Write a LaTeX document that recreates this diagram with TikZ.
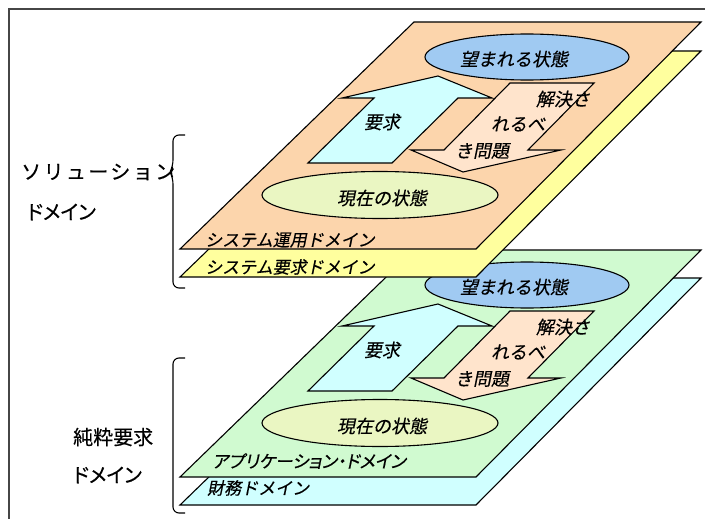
\documentclass[tikz,border=0pt]{standalone}
\usepackage{fontspec}
\newfontfamily\jp[FakeBold=0.4]{Noto Sans CJK JP}
\newfontfamily\jpp[FakeBold=0.4,RawFeature=+palt]{Noto Sans CJK JP}
\newfontfamily\jpsp[FakeBold=0.4,LetterSpace=12]{Noto Sans CJK JP}
\newfontfamily\jpit[FakeSlant=0.2,FakeBold=0.4]{Noto Sans CJK JP}
\newfontfamily\jpitp[FakeSlant=0.2,FakeBold=0.4,RawFeature=+palt]{Noto Sans CJK JP}
\definecolor{planeOrange}{RGB}{252,213,172}
\definecolor{planeYellow}{RGB}{255,255,158}
\definecolor{planeGreen}{RGB}{208,250,208}
\definecolor{planeCyan}{RGB}{208,255,255}
\definecolor{ellBlue}{RGB}{160,202,242}
\definecolor{ellGreen}{RGB}{234,246,194}
\definecolor{arrCyan}{RGB}{208,255,255}
\definecolor{arrPeach}{RGB}{255,228,204}
\definecolor{frameGray}{RGB}{70,70,70}
\tikzset{
  plane/.style={draw=black, line width=1.1pt, line join=miter},
  shapeline/.style={draw=black, line width=1.1pt, line join=miter},
  itlab/.style={inner sep=0pt, font=\jpit\fontsize{18}{18}\selectfont},
  itlabw/.style={inner sep=0pt, anchor=west, font=\jpit\fontsize{17}{17}\selectfont},
  uplab/.style={inner sep=0pt, anchor=west, font=\jp\fontsize{20}{20}\selectfont},
  bracket/.style={draw=black, line width=1.1pt, rounded corners=6pt},
}
\newcommand\planecontents[1]{%
  \begin{scope}[shift={(0,#1)}]
    \draw[shapeline, fill=ellBlue] (527,57) ellipse [x radius=102, y radius=23];
    \draw[shapeline, fill=arrCyan] (438,76) -- (492,98) -- (458,98) -- (392,163)
      -- (308,163) -- (374,98) -- (342,98) -- cycle;
    \draw[shapeline, fill=arrPeach] (510,83) -- (594,83) -- (528,150) -- (561,150)
      -- (463,172) -- (411,150) -- (444,150) -- cycle;
    \draw[shapeline, fill=ellGreen] (380,195) ellipse [x radius=118, y radius=23.5];
    \node[itlab] (want#1) at (514,59) {望まれる状態};
    \node[itlab] (req#1) at (382,122) {要求};
    \node[itlab] (pa#1) at (563,99) {解決さ};
    \node[itlab] (pb#1) at (518,124) {れるべ};
    \node[itlab] (pc#1) at (482,151) {き問題};
    \node[itlab] (cur#1) at (382,198) {現在の状態};
  \end{scope}}
\begin{document}
\begin{tikzpicture}[x=1pt,y=-1pt]
\useasboundingbox (0,0) rectangle (705,519);
% frame
\draw[frameGray, line width=1.6pt] (9,519) -- (9,9) -- (705,9);
% lower stack
\draw[plane, fill=planeCyan] (414,278) -- (701,278) -- (476,505) -- (180,505) -- cycle;
\draw[plane, fill=planeGreen] (414,250) -- (701,250) -- (476,477) -- (180,477) -- cycle;
\planecontents{228}
\node[itlabw, font=\jpitp\fontsize{17.5}{17.5}\selectfont] (appdom) at (212,461) {アプリケーション・ドメイン};
\node[itlabw] (findom) at (207,488) {財務ドメイン};
% upper stack
\draw[plane, fill=planeYellow] (414,51) -- (701,51) -- (476,277) -- (180,277) -- cycle;
\draw[plane, fill=planeOrange] (414,22) -- (701,22) -- (476,249) -- (180,249) -- cycle;
\planecontents{0}
\node[itlabw] (opdom) at (205,240) {システム運用ドメイン};
\node[itlabw] (reqdom) at (205,267) {システム要求ドメイン};
% left labels
\node[uplab, font=\jpsp\fontsize{20}{20}\selectfont] (sol1) at (21,172) {ソリューション};
\node[uplab, font=\jpp\fontsize{20}{20}\selectfont] (sol2) at (27,212) {ドメイン};
\node[uplab] (pure1) at (73,437) {純粋要求};
\node[uplab, font=\jpp\fontsize{20}{20}\selectfont] (pure2) at (73,475) {ドメイン};
% brackets
\draw[bracket] (185,135) -- (173,135) -- (173,166) -- (170,172) -- (173,178) -- (173,288) -- (185,288);
\draw[bracket] (185,358) -- (173,358) -- (173,513) -- (185,513);
\end{tikzpicture}
\end{document}
